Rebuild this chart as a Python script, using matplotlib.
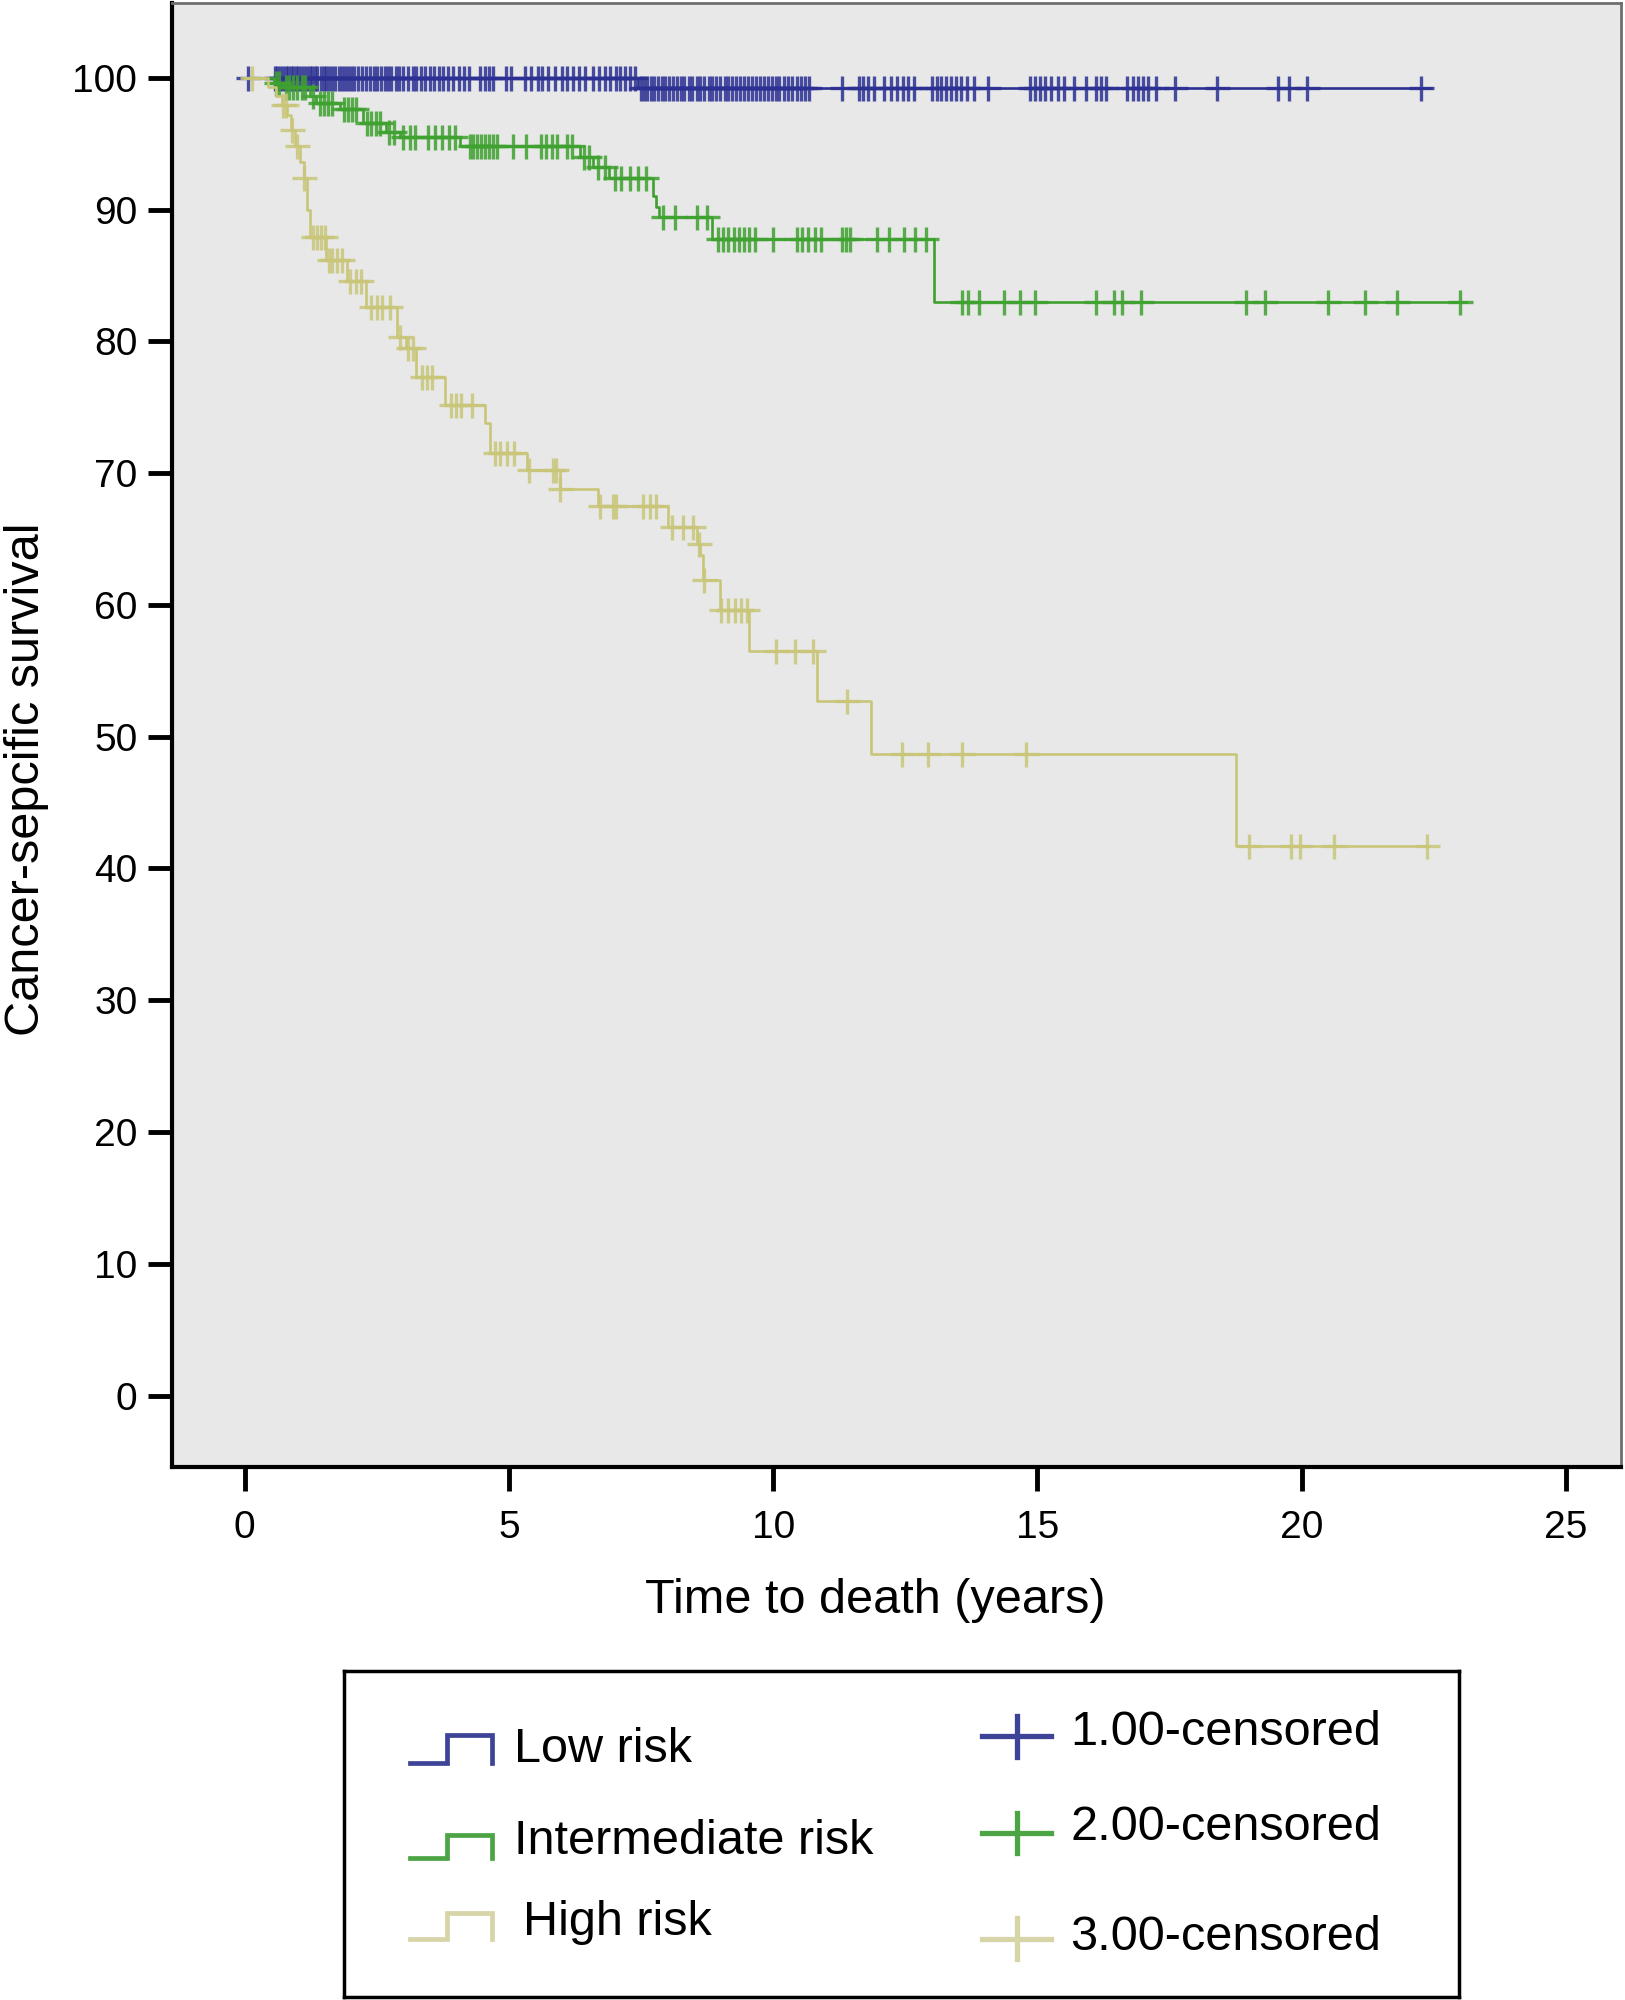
import numpy as np
import matplotlib
matplotlib.use("Agg")
import matplotlib.pyplot as plt
from matplotlib.lines import Line2D

plt.rcParams['font.family'] = ['Liberation Sans', 'DejaVu Sans']

# ---------------- data ----------------
groups = ["Low risk", "Intermediate risk", "High risk"]
censor_labels = ["1.00-censored", "2.00-censored", "3.00-censored"]

# Kaplan-Meier step events (time in years, survival % after the drop)
low_event_t = [7.45]
low_event_s = [99.2]
low_end = 22.45

mid_event_t = [0.55, 0.72, 1.23, 1.35, 1.80, 2.24, 2.68, 2.94, 4.07, 6.34, 6.60,
               6.90, 7.72, 7.78, 7.84, 8.84, 13.05]
mid_event_s = [99.6, 99.3, 98.6, 98.1, 97.6, 96.6, 95.9, 95.5, 94.8, 94.0, 93.2,
               92.4, 91.0, 90.2, 89.4, 87.8, 83.0]
mid_end = 23.1

high_event_t = [0.45, 0.60, 0.70, 0.80, 0.88, 0.95, 1.05, 1.12, 1.18, 1.24, 1.55,
                1.94, 2.30, 2.88, 3.05, 3.25, 3.80, 4.55, 4.64, 5.35, 5.96, 6.69,
                8.02, 8.55, 8.62, 8.68, 9.00, 9.55, 10.82, 11.86, 18.75]
high_event_s = [99.3, 98.6, 97.9, 97.2, 96.0, 94.8, 93.6, 92.4, 90.0, 87.9, 86.2,
                84.6, 82.6, 80.3, 79.5, 77.3, 75.2, 73.8, 71.5, 70.2, 68.8, 67.5,
                65.9, 64.6, 63.8, 61.9, 59.6, 56.5, 52.7, 48.7, 41.7]
high_end = 22.4

# censoring times
low_censor = [0.06, 0.57, 0.62, 0.68, 0.72, 0.78, 0.83, 0.88, 0.92, 0.97, 1.02, 1.07,
              1.12, 1.18, 1.23, 1.28, 1.33, 1.38, 1.44, 1.50, 1.55, 1.60, 1.66, 1.72,
              1.78, 1.84, 1.90, 1.96, 2.02, 2.08, 2.15, 2.22, 2.30, 2.38, 2.45, 2.50,
              2.58, 2.65, 2.72, 2.78, 2.86, 2.93, 3.00, 3.10, 3.18, 3.25, 3.33, 3.42,
              3.50, 3.58, 3.68, 3.76, 3.85, 3.95, 4.05, 4.15, 4.25, 4.45, 4.55, 4.62,
              4.70, 4.95, 5.05, 5.30, 5.42, 5.55, 5.62, 5.75, 5.88, 6.00, 6.10, 6.22,
              6.32, 6.45, 6.60, 6.70, 6.82, 6.92, 7.02, 7.10, 7.20, 7.30, 7.38,
              7.50, 7.55, 7.62, 7.68, 7.75, 7.82, 7.90, 7.96, 8.03, 8.10, 8.18, 8.25,
              8.32, 8.40, 8.47, 8.55, 8.62, 8.70, 8.78, 8.85, 8.92, 9.00, 9.08, 9.15,
              9.22, 9.30, 9.38, 9.45, 9.52, 9.60, 9.68, 9.75, 9.82, 9.90, 9.98, 10.05,
              10.12, 10.20, 10.28, 10.36, 10.45, 10.52, 10.60, 10.68, 11.30, 11.62,
              11.70, 11.80, 11.90, 12.10, 12.22, 12.35, 12.45, 12.55, 12.66, 13.00,
              13.10, 13.18, 13.27, 13.36, 13.45, 13.55, 13.66, 13.80, 14.06, 14.85,
              14.95, 15.05, 15.15, 15.25, 15.38, 15.50, 15.70, 15.92, 16.10, 16.20,
              16.30, 16.70, 16.80, 16.90, 17.00, 17.10, 17.25, 17.60, 18.40, 19.55,
              19.75, 20.10, 22.25]

mid_censor = [0.60, 0.65, 0.78, 0.85, 0.92, 1.00, 1.08, 1.15, 1.30, 1.42, 1.50, 1.58,
              1.65, 1.88, 1.95, 2.03, 2.10, 2.32, 2.40, 2.48, 2.56, 2.74, 2.82, 3.00,
              3.13, 3.23, 3.48, 3.60, 3.73, 3.86, 3.99, 4.26, 4.33, 4.40, 4.47, 4.54,
              4.62, 4.70, 4.77, 5.07, 5.33, 5.60, 5.70, 5.82, 5.92, 6.10, 6.20, 6.42,
              6.52, 6.68, 6.82, 7.00, 7.12, 7.30, 7.45, 7.60, 7.92, 8.15, 8.55, 8.75,
              8.95, 9.05, 9.15, 9.25, 9.35, 9.45, 9.55, 9.65, 10.00, 10.45, 10.55,
              10.65, 10.80, 10.90, 11.30, 11.38, 11.45, 11.96, 12.20, 12.47, 12.68,
              12.90, 13.57, 13.69, 13.89, 14.37, 14.66, 14.95, 16.10, 16.45, 16.60,
              16.95, 18.95, 19.30, 20.50, 21.20, 21.80, 23.00]

high_censor = [0.15, 0.72, 0.78, 0.89, 1.00, 1.13, 1.30, 1.38, 1.45, 1.52, 1.60, 1.66,
               1.75, 1.85, 2.00, 2.10, 2.20, 2.40, 2.50, 2.60, 2.75, 2.95, 3.10, 3.18,
               3.35, 3.45, 3.55, 3.90, 4.00, 4.10, 4.30, 4.73, 4.83, 4.96, 5.09, 5.39,
               5.84, 5.90, 5.96, 6.72, 6.97, 7.03, 7.54, 7.67, 7.79, 8.08, 8.30, 8.49,
               8.60, 8.70, 9.02, 9.15, 9.28, 9.40, 9.50, 10.06, 10.41, 10.75, 11.39,
               12.44, 12.92, 13.57, 14.78, 19.00, 19.80, 19.96, 20.60, 22.37]

x_ticks = [0, 5, 10, 15, 20, 25]
y_ticks = [0, 10, 20, 30, 40, 50, 60, 70, 80, 90, 100]

line_colors = ["#2b3092", "#3fa12f", "#c9c67a"]
legend_colors = ["#3d4498", "#4ca444", "#d7d4a8"]

# ---------------- figure ----------------
fig = plt.figure(figsize=(16.25, 20), dpi=100)
ax = fig.add_axes([0.1059, 0.2666, 0.8917, 0.7321])
ax.set_facecolor("#e8e8e8")

series = [
    (low_event_t, low_event_s, low_end, low_censor),
    (mid_event_t, mid_event_s, mid_end, mid_censor),
    (high_event_t, high_event_s, high_end, high_censor),
]

for i in [2, 1, 0]:
    et, es, end, cens = series[i]
    t = np.array([0.0] + list(et) + [end])
    s = np.array([100.0] + list(es) + [es[-1]])
    ax.step(t, s, where="post", color=line_colors[i], lw=1.9, zorder=2 + i)
    c = np.array(cens)
    idx = np.searchsorted(np.array(t), c, side="right") - 1
    ax.plot(c, s[idx], linestyle="none", marker="+", markersize=18,
            markeredgewidth=2.4, color=line_colors[i], alpha=0.85, zorder=2 + i)

ax.set_xlim(-1.37, 26.04)
ax.set_ylim(-5.4, 105.7)
ax.set_xticks(x_ticks)
ax.set_yticks(y_ticks)
ax.tick_params(axis="both", which="major", labelsize=28, length=17, width=3.5,
               direction="out", color="black")
ax.tick_params(axis="y", pad=8)
ax.tick_params(axis="x", pad=14)
for sp in ["left", "bottom"]:
    ax.spines[sp].set_linewidth(3)
    ax.spines[sp].set_color("black")
for sp in ["top", "right"]:
    ax.spines[sp].set_linewidth(2)
    ax.spines[sp].set_color("#6e6e6e")

fig.text(0.5388, 0.1996, "Time to death (years)", fontsize=35,
         ha="center", va="center")
fig.text(0.0165, 0.6103, "Cancer-sepcific survival", fontsize=35,
         ha="center", va="center", rotation=90)

# ---------------- legend box ----------------
lg = fig.add_axes([0.2118, 0.0013, 0.6862, 0.1632])
lg.set_xlim(0, 1)
lg.set_ylim(0, 1)
lg.set_xticks([])
lg.set_yticks([])
for sp in lg.spines.values():
    sp.set_linewidth(2.5)
    sp.set_color("black")

handle_y = [(0.719, 0.805), (0.428, 0.499), (0.180, 0.258)]
text_y = [0.758, 0.477, 0.230]
text_x = [0.152, 0.152, 0.160]
for i in range(3):
    yb, yt = handle_y[i]
    lg.add_line(Line2D([0.059, 0.092, 0.092, 0.133, 0.133],
                       [yb, yb, yt, yt, yb], color=legend_colors[i], lw=3.4,
                       solid_joinstyle="miter"))
    lg.text(text_x[i], text_y[i], groups[i], fontsize=35, ha="left", va="center")

plus_y = [0.800, 0.504, 0.180]
ctext_y = [0.8125, 0.520, 0.184]
for i in range(3):
    lg.add_line(Line2D([0.572, 0.634], [plus_y[i], plus_y[i]],
                       color=legend_colors[i], lw=3.8))
    lg.add_line(Line2D([0.603, 0.603], [plus_y[i] - 0.062, plus_y[i] + 0.062],
                       color=legend_colors[i], lw=3.8))
    lg.text(0.651, ctext_y[i], censor_labels[i], fontsize=35, ha="left", va="center")

fig.savefig("out.png", dpi=100, facecolor="white")
